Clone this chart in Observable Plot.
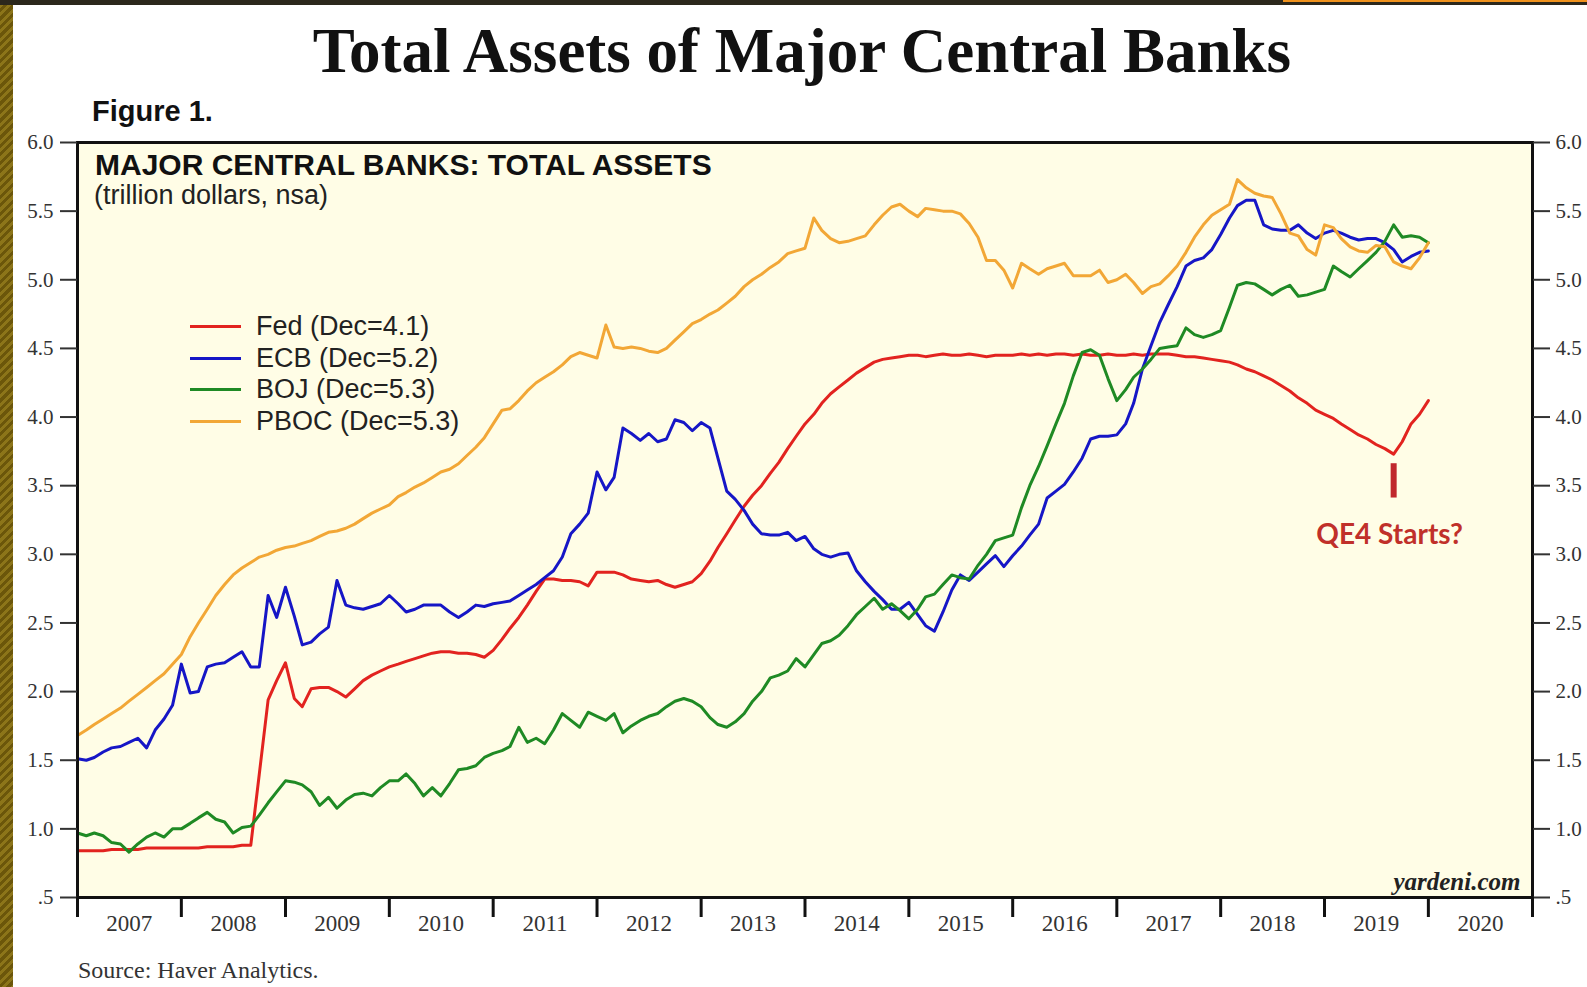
<!DOCTYPE html>
<html>
<head>
<meta charset="utf-8">
<script src="https://cdn.jsdelivr.net/npm/d3@7"></script>
<script src="https://cdn.jsdelivr.net/npm/@observablehq/plot@0.6"></script>
<style>
html,body{margin:0;padding:0;background:#fff;}
body{width:1587px;height:987px;position:relative;overflow:hidden;}
#leftbar{position:absolute;left:0;top:0;width:13px;height:987px;background:repeating-linear-gradient(135deg,#6b560a 0 3px,#8c7519 3px 6px);}
#topbar{position:absolute;left:0;top:0;width:1587px;height:5px;background:#2c281c;}
#topline{position:absolute;left:1283px;top:0;width:304px;height:2px;background:#f0921c;}
#chart{position:absolute;left:0;top:100px;}
.t{position:absolute;white-space:nowrap;line-height:1;color:#111;}
.sans{font-family:"Liberation Sans",Arial,sans-serif;}
.serif{font-family:"Liberation Serif","Times New Roman",serif;}
.sw{position:absolute;height:3px;width:51px;}
</style>
</head>
<body>
<div id="leftbar"></div><div id="topbar"></div><div id="topline"></div>
<div id="chart"></div>
<div class="t serif" id="title" style="font-size:63px;font-weight:bold;left:802px;top:20px;transform:translateX(-50%);">Total Assets of Major Central Banks</div>
<div class="t sans" style="font-size:29px;font-weight:bold;left:92px;top:97px;">Figure 1.</div>
<div class="t sans" style="font-size:30px;font-weight:bold;left:95px;top:150px;">MAJOR CENTRAL BANKS: TOTAL ASSETS</div>
<div class="t sans" style="font-size:27px;left:94px;top:182px;color:#222;">(trillion dollars, nsa)</div>
<div id="legend"></div>
<div class="t serif" style="font-size:24px;left:78px;top:958px;color:#333;">Source: Haver Analytics.</div>
<script>
// ---------- data ----------
const banks = ["Fed", "ECB", "BOJ", "PBOC"];
const decValues = ["4.1", "5.2", "5.3", "5.3"];
const colors = ["#e2231f", "#1616c6", "#1f8a24", "#f2a736"];

// monthly values, Jan 2007 .. Jan 2020 (trillion dollars)
const fed = [
0.84,0.84,0.84,0.84,0.85,0.85,0.85,0.85,0.86,0.86,0.86,0.86,0.86,
0.86,0.86,0.87,0.87,0.87,0.87,0.88,0.88,1.40,1.94,2.08,2.21,
1.95,1.89,2.02,2.03,2.03,2.00,1.96,2.02,2.08,2.12,2.15,2.18,
2.20,2.22,2.24,2.26,2.28,2.29,2.29,2.28,2.28,2.27,2.25,2.30,
2.38,2.46,2.54,2.63,2.73,2.82,2.82,2.81,2.81,2.80,2.77,2.87,
2.87,2.87,2.85,2.82,2.81,2.80,2.81,2.78,2.76,2.78,2.80,2.86,
2.95,3.05,3.15,3.25,3.35,3.43,3.50,3.59,3.67,3.77,3.86,3.95,
4.02,4.10,4.17,4.22,4.27,4.32,4.36,4.40,4.42,4.43,4.44,4.45,
4.45,4.44,4.45,4.46,4.45,4.45,4.46,4.45,4.44,4.45,4.45,4.45,
4.46,4.45,4.46,4.45,4.46,4.46,4.45,4.46,4.45,4.45,4.46,4.45,
4.45,4.46,4.45,4.46,4.46,4.46,4.45,4.44,4.44,4.43,4.42,4.41,
4.40,4.38,4.35,4.33,4.30,4.27,4.23,4.19,4.14,4.10,4.05,4.02,
3.99,3.95,3.91,3.87,3.84,3.80,3.77,3.73,3.82,3.95,4.02,4.12];
const ecb = [
1.51,1.50,1.52,1.56,1.59,1.60,1.63,1.66,1.59,1.72,1.80,1.90,2.20,
1.99,2.00,2.18,2.20,2.21,2.25,2.29,2.18,2.18,2.70,2.54,2.76,
2.55,2.34,2.36,2.42,2.47,2.81,2.63,2.61,2.60,2.62,2.64,2.70,
2.64,2.58,2.60,2.63,2.63,2.63,2.58,2.54,2.58,2.63,2.62,2.64,
2.65,2.66,2.70,2.74,2.78,2.83,2.88,2.98,3.15,3.22,3.30,3.60,
3.47,3.56,3.92,3.88,3.83,3.88,3.82,3.84,3.98,3.96,3.90,3.96,
3.92,3.70,3.46,3.40,3.32,3.22,3.15,3.14,3.14,3.16,3.10,3.13,
3.04,3.00,2.98,3.00,3.01,2.88,2.80,2.73,2.67,2.60,2.60,2.65,
2.56,2.48,2.44,2.58,2.74,2.85,2.81,2.87,2.93,2.99,2.91,2.99,
3.06,3.14,3.22,3.41,3.46,3.51,3.60,3.70,3.84,3.86,3.86,3.87,
3.95,4.10,4.35,4.52,4.69,4.82,4.95,5.10,5.14,5.16,5.22,5.33,
5.45,5.54,5.58,5.58,5.40,5.37,5.36,5.36,5.40,5.34,5.30,5.34,
5.36,5.34,5.31,5.29,5.30,5.30,5.27,5.22,5.13,5.17,5.20,5.21];
const boj = [
0.97,0.95,0.97,0.95,0.90,0.89,0.83,0.89,0.94,0.97,0.94,1.00,1.00,
1.04,1.08,1.12,1.07,1.05,0.97,1.01,1.02,1.10,1.19,1.27,1.35,
1.34,1.32,1.27,1.17,1.23,1.15,1.21,1.25,1.26,1.24,1.30,1.35,
1.35,1.40,1.33,1.24,1.30,1.24,1.33,1.43,1.44,1.46,1.52,1.55,
1.57,1.60,1.74,1.63,1.66,1.62,1.72,1.84,1.79,1.74,1.85,1.82,
1.79,1.84,1.70,1.75,1.79,1.82,1.84,1.89,1.93,1.95,1.93,1.89,
1.81,1.76,1.74,1.78,1.84,1.93,2.00,2.10,2.12,2.15,2.24,2.18,
2.27,2.35,2.37,2.41,2.48,2.56,2.62,2.68,2.60,2.64,2.59,2.53,
2.60,2.69,2.71,2.78,2.85,2.83,2.82,2.92,3.00,3.10,3.12,3.14,
3.34,3.50,3.64,3.79,3.95,4.10,4.30,4.47,4.49,4.45,4.28,4.12,
4.20,4.29,4.35,4.42,4.50,4.51,4.52,4.65,4.60,4.58,4.60,4.63,
4.80,4.96,4.98,4.97,4.93,4.89,4.93,4.96,4.88,4.89,4.91,4.93,
5.10,5.06,5.02,5.08,5.14,5.20,5.28,5.40,5.31,5.32,5.31,5.27];
const pboc = [
1.68,1.72,1.76,1.80,1.84,1.88,1.93,1.98,2.03,2.08,2.13,2.20,2.27,
2.40,2.50,2.60,2.70,2.78,2.85,2.90,2.94,2.98,3.00,3.03,3.05,
3.06,3.08,3.10,3.13,3.16,3.17,3.19,3.22,3.26,3.30,3.33,3.36,
3.42,3.45,3.49,3.52,3.56,3.60,3.62,3.66,3.72,3.78,3.85,3.95,
4.05,4.06,4.12,4.19,4.25,4.29,4.33,4.38,4.44,4.47,4.45,4.43,
4.67,4.51,4.50,4.51,4.50,4.48,4.47,4.50,4.56,4.62,4.68,4.71,
4.75,4.78,4.83,4.88,4.95,5.00,5.04,5.09,5.13,5.19,5.21,5.23,
5.45,5.36,5.30,5.27,5.28,5.30,5.32,5.40,5.47,5.53,5.55,5.50,
5.46,5.52,5.51,5.50,5.50,5.48,5.41,5.31,5.14,5.14,5.07,4.94,
5.12,5.08,5.04,5.08,5.10,5.12,5.03,5.03,5.03,5.07,4.98,5.00,
5.04,4.98,4.90,4.95,4.97,5.03,5.10,5.20,5.31,5.40,5.47,5.51,
5.55,5.73,5.67,5.63,5.61,5.60,5.48,5.34,5.32,5.22,5.18,5.40,
5.38,5.30,5.24,5.21,5.20,5.25,5.24,5.13,5.10,5.08,5.16,5.27];

const yTicks = [0.5, 1.0, 1.5, 2.0, 2.5, 3.0, 3.5, 4.0, 4.5, 5.0, 5.5, 6.0];
const yTickLabels = [".5", "1.0", "1.5", "2.0", "2.5", "3.0", "3.5", "4.0", "4.5", "5.0", "5.5", "6.0"];
const yearLabels = ["2007","2008","2009","2010","2011","2012","2013","2014","2015","2016","2017","2018","2019","2020"];

const qeLabel = "QE4 Starts?";
const qeDate = "2019-09-01";
const qeMarker = [3.41, 3.66];
const qeTextY = 3.14;
const credit = "yardeni.com";

// ---------- build ----------
const start = new Date(Date.UTC(2007, 0, 1));
const dates = d3.utcMonth.range(start, d3.utcMonth.offset(start, fed.length));
const seriesValues = [fed, ecb, boj, pboc];
const rows = [];
banks.forEach((b, k) => seriesValues[k].forEach((v, i) => rows.push({date: dates[i], bank: b, value: v})));

const yearEdges = yearLabels.map(y => new Date(Date.UTC(+y, 0, 1)));
yearEdges.push(new Date(Date.UTC(+yearLabels[yearLabels.length - 1] + 1, 0, 1)));
const yearMids = yearLabels.map(y => new Date(Date.UTC(+y, 6, 2)));

const yFmt = d => yTickLabels[yTicks.indexOf(d)];

const chart = Plot.plot({
  width: 1587,
  height: 860,
  marginTop: 42,
  marginBottom: 63,
  marginLeft: 77,
  marginRight: 55,
  style: {background: "none", fontFamily: "Liberation Serif, serif", fontSize: "21px", color: "#222"},
  x: {type: "utc", domain: [yearEdges[0], yearEdges[yearEdges.length - 1]], label: null},
  y: {domain: [yTicks[0], yTicks[yTicks.length - 1]], label: null},
  color: {domain: banks, range: colors},
  marks: [
    Plot.frame({fill: "#fffde6", stroke: null}),
    ...banks.map(b => Plot.lineY(rows.filter(r => r.bank === b), {x: "date", y: "value", stroke: "bank", strokeWidth: 3, strokeLinejoin: "round"})),
    Plot.ruleX([new Date(qeDate)], {y1: qeMarker[0], y2: qeMarker[1], stroke: "#c0282d", strokeWidth: 6}),
    Plot.text([qeLabel], {x: new Date(qeDate), y: qeTextY, text: d => d, dx: -4, fill: "#c0302a", fontFamily: "Lato, sans-serif", fontWeight: "bold", fontSize: 28}),
    Plot.text([credit], {frameAnchor: "bottom-right", text: d => d, dx: -12, dy: -8, fill: "#222", fontFamily: "Liberation Serif, serif", fontStyle: "italic", fontWeight: "bold", fontSize: 25}),
    Plot.frame({stroke: "#111", strokeWidth: 3}),
    Plot.axisY({anchor: "left", label: null, ticks: yTicks, tickFormat: yFmt, tickSize: 17, tickPadding: 7, strokeWidth: 2, fontSize: 21, color: "#333"}),
    Plot.axisY({anchor: "right", label: null, ticks: yTicks, tickFormat: yFmt, tickSize: 17, tickPadding: 6, strokeWidth: 2, fontSize: 21, color: "#333"}),
    Plot.axisX({anchor: "bottom", label: null, ticks: yearEdges, tickFormat: () => "", tickSize: 20, strokeWidth: 3, color: "#111"}),
    Plot.axisX({anchor: "bottom", label: null, ticks: yearMids, tickFormat: d => yearLabels.find(y => +y === d.getUTCFullYear()), tickSize: 0, tickPadding: 17, fontSize: 23, color: "#333"})
  ]
});
document.getElementById("chart").appendChild(chart);

// legend (overlay)
const legend = document.getElementById("legend");
const rowY = [326, 358, 389, 421];
banks.forEach((b, k) => {
  const sw = document.createElement("div");
  sw.className = "sw";
  sw.style.left = "190px";
  sw.style.top = (rowY[k] - 1.5) + "px";
  sw.style.background = colors[k];
  legend.appendChild(sw);
  const tx = document.createElement("div");
  tx.className = "t sans";
  tx.style.fontSize = "27px";
  tx.style.left = "256px";
  tx.style.top = (rowY[k] + 10 - 22.9) + "px";
  tx.style.color = "#222";
  tx.textContent = `${b} (Dec=${decValues[k]})`;
  legend.appendChild(tx);
});
</script>
</body>
</html>
